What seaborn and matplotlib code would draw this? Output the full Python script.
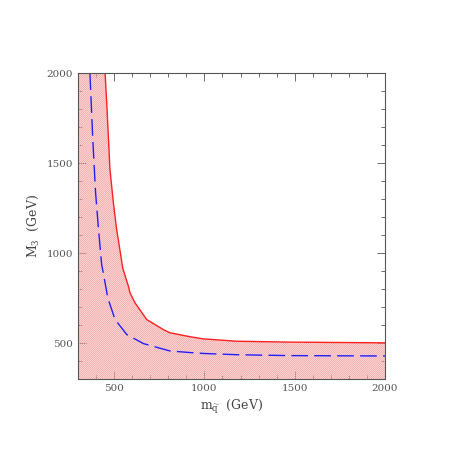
import matplotlib
matplotlib.use("Agg")
import matplotlib.pyplot as plt
import pandas as pd
import seaborn as sns
from matplotlib.ticker import MultipleLocator

# limit curve (red, solid) and expected curve (blue, dashed)
red_msq = [450, 459, 477, 496, 514, 523, 548, 579, 588, 616, 680, 772, 809, 920, 994, 1179, 1474, 2000]
red_m3 = [2000, 1835, 1464, 1279, 1131, 1075, 915, 816, 779, 723, 631, 575, 557, 535, 523, 510, 505, 501]
blue_msq = [366, 381, 397, 412, 431, 440, 465, 505, 570, 662, 772, 809, 920, 994, 1179, 1474, 2000]
blue_m3 = [2000, 1650, 1340, 1150, 936, 890, 750, 631, 547, 497, 466, 456, 447, 442, 435, 430, 428]

sns.set_theme(style="ticks")
plt.rcParams["font.family"] = ["DejaVu Serif"]
plt.rcParams["mathtext.fontset"] = "dejavuserif"
plt.rcParams["hatch.linewidth"] = 0.7

fig = plt.figure(figsize=(4.57, 4.57), dpi=100)
ax = fig.add_axes([0.1707, 0.1707, 0.6718, 0.6689])

# excluded region: everything below / left of the red curve
poly_x = [300, 300] + red_msq + [2000]
poly_y = [300, 2000] + red_m3 + [300]
ax.fill(poly_x, poly_y, facecolor="none", edgecolor="#f4a4a4", hatch="/" * 16, lw=0)

red_df = pd.DataFrame({"msq": red_msq, "m3": red_m3})
blue_df = pd.DataFrame({"msq": blue_msq, "m3": blue_m3})
sns.lineplot(data=red_df, x="msq", y="m3", sort=False, color="#ff2020",
             lw=1.0, ax=ax, estimator=None)
sns.lineplot(data=blue_df, x="msq", y="m3", sort=False, color="#2020ff",
             lw=1.0, ax=ax, estimator=None, linestyle=(0, (12, 4.5)))

ax.set_xlim(300, 2000)
ax.set_ylim(300, 2000)
ax.xaxis.set_major_locator(MultipleLocator(500))
ax.yaxis.set_major_locator(MultipleLocator(500))
ax.xaxis.set_minor_locator(MultipleLocator(100))
ax.yaxis.set_minor_locator(MultipleLocator(100))
ax.tick_params(which="both", direction="in", top=True, right=True,
               colors="#555555", labelsize=7.5, width=0.6)
ax.tick_params(which="major", length=6)
ax.tick_params(which="minor", length=3)
for s in ax.spines.values():
    s.set_color("#555555")
    s.set_linewidth(0.8)

ax.set_xlabel(r"$\mathrm{m}_{\widetilde{\mathrm{q}}}$  (GeV)", fontsize=9, color="#444444")
ax.set_ylabel(r"$\mathrm{M}_3$  (GeV)", fontsize=9, color="#444444")

fig.savefig("out.png", dpi=100)
